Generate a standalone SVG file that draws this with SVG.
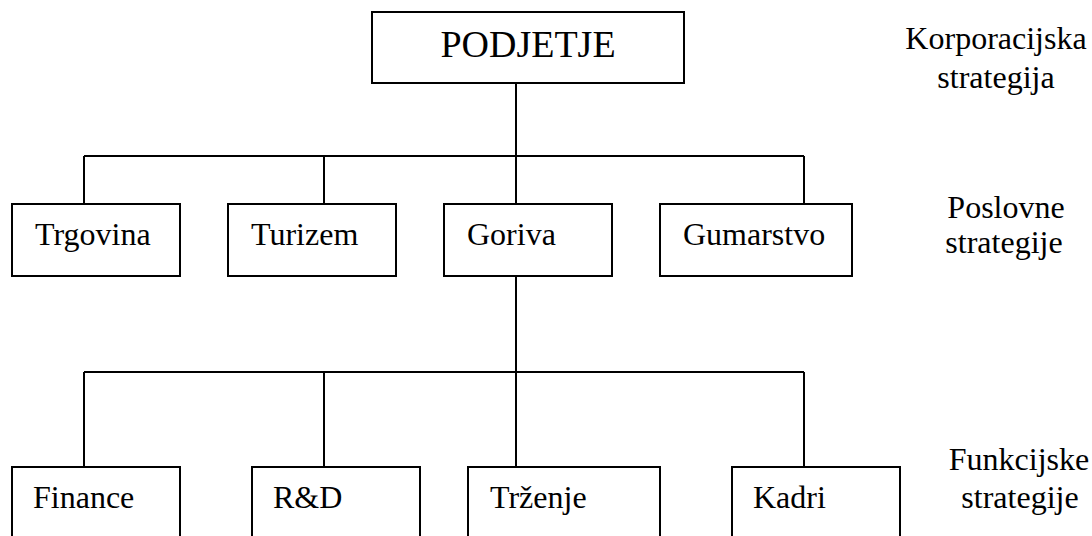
<svg xmlns="http://www.w3.org/2000/svg" width="1092" height="536" viewBox="0 0 1092 536">
<style>
.box{fill:#fff;stroke:#000;stroke-width:2}
.ln{fill:none;stroke:#000;stroke-width:2}
.c{text-anchor:middle}
</style>
<rect width="1092" height="536" fill="#fff"/>
<g id="connectors">
<path class="ln" d="M516 83V156M84 156H804M84 156V204M324 156V204M516 156V204M804 156V204"/>
<path class="ln" d="M516 276V372M84 372H804M84 372V467M324 372V467M516 372V467M804 372V467"/>
</g>
<g font-family="'Liberation Serif', 'Times New Roman', 'DejaVu Serif', serif" font-size="32" fill="#000">
<g id="podjetje"><rect class="box" x="372" y="12" width="312" height="71"/><text class="c" x="528" y="57" font-size="38">PODJETJE</text></g>
<g id="trgovina"><rect class="box" x="12" y="204" width="168" height="72"/><text x="35" y="245">Trgovina</text></g>
<g id="turizem"><rect class="box" x="228" y="204" width="168" height="72"/><text x="251" y="245">Turizem</text></g>
<g id="goriva"><rect class="box" x="444" y="204" width="168" height="72"/><text x="467" y="245">Goriva</text></g>
<g id="gumarstvo"><rect class="box" x="660" y="204" width="192" height="72"/><text x="683" y="245">Gumarstvo</text></g>
<g id="finance"><rect class="box" x="12" y="467" width="168" height="80"/><text x="33" y="508">Finance</text></g>
<g id="rd"><rect class="box" x="252" y="467" width="168" height="80"/><text x="273" y="508">R&amp;D</text></g>
<g id="trzenje"><rect class="box" x="468" y="467" width="192" height="80"/><text x="490" y="508">Trženje</text></g>
<g id="kadri"><rect class="box" x="732" y="467" width="168" height="80"/><text x="753" y="508">Kadri</text></g>
<g id="labels">
<text class="c" x="996" y="49">Korporacijska</text>
<text class="c" x="996" y="88">strategija</text>
<text class="c" x="1006" y="218">Poslovne</text>
<text class="c" x="1004" y="253">strategije</text>
<text class="c" x="1019" y="470">Funkcijske</text>
<text class="c" x="1020" y="508">strategije</text>
</g>
</g>
</svg>
